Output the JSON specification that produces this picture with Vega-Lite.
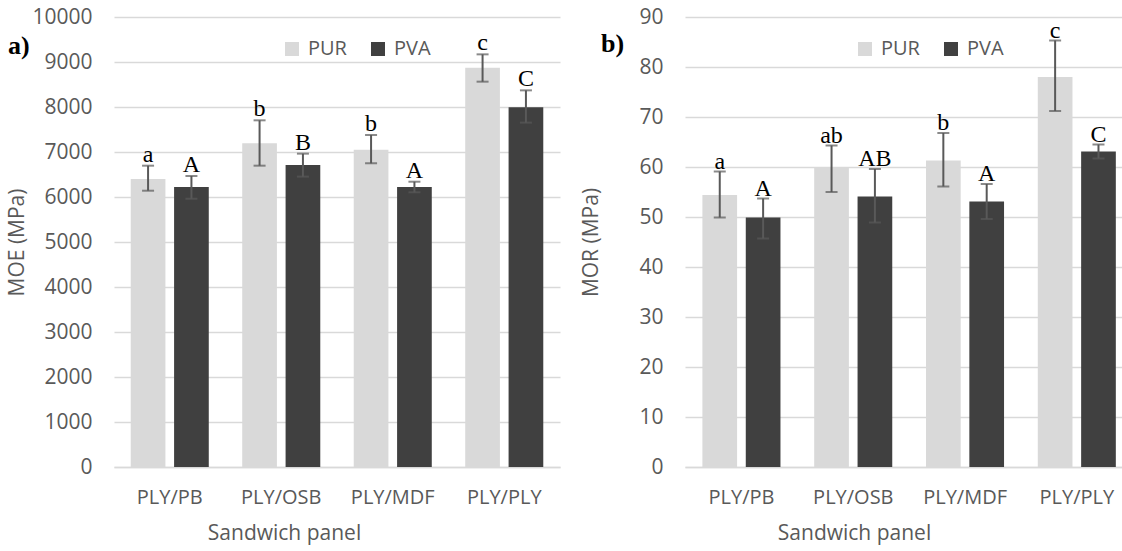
{
  "$schema": "https://vega.github.io/schema/vega-lite/v6.json",
  "background": "white",
  "padding": {"left": 6, "top": 6, "right": 0, "bottom": 5},
  "config": {
    "view": {"stroke": null},
    "font": "Open Sans",
    "axis": {
      "labelFont": "Open Sans", "titleFont": "Open Sans",
      "labelColor": "#595959", "titleColor": "#595959",
      "labelFontSize": 21, "titleFontSize": 21, "titleFontWeight": "normal",
      "gridColor": "#d9d9d9", "gridWidth": 1.5,
      "domain": false, "ticks": false
    },
    "legend": {
      "labelFont": "Open Sans", "labelFontSize": 20, "labelColor": "#595959",
      "symbolType": "square", "symbolSize": 196, "symbolStrokeWidth": 0,
      "columnPadding": 21, "labelOffset": 6
    }
  },
  "datasets": {
    "moe": [
      {"panel": "PLY/PB", "adhesive": "PUR", "mean": 6400, "lo": 6140, "hi": 6696, "letter": "a"},
      {"panel": "PLY/PB", "adhesive": "PVA", "mean": 6222, "lo": 5962, "hi": 6467, "letter": "A"},
      {"panel": "PLY/OSB", "adhesive": "PUR", "mean": 7193, "lo": 6696, "hi": 7704, "letter": "b"},
      {"panel": "PLY/OSB", "adhesive": "PVA", "mean": 6711, "lo": 6452, "hi": 6963, "letter": "B"},
      {"panel": "PLY/MDF", "adhesive": "PUR", "mean": 7052, "lo": 6748, "hi": 7378, "letter": "b"},
      {"panel": "PLY/MDF", "adhesive": "PVA", "mean": 6222, "lo": 6104, "hi": 6340, "letter": "A"},
      {"panel": "PLY/PLY", "adhesive": "PUR", "mean": 8874, "lo": 8563, "hi": 9170, "letter": "c"},
      {"panel": "PLY/PLY", "adhesive": "PVA", "mean": 7993, "lo": 7652, "hi": 8370, "letter": "C"}
    ],
    "mor": [
      {"panel": "PLY/PB", "adhesive": "PUR", "mean": 54.4, "lo": 49.9, "hi": 59.1, "letter": "a"},
      {"panel": "PLY/PB", "adhesive": "PVA", "mean": 49.9, "lo": 45.7, "hi": 53.7, "letter": "A"},
      {"panel": "PLY/OSB", "adhesive": "PUR", "mean": 59.9, "lo": 55.0, "hi": 64.3, "letter": "ab"},
      {"panel": "PLY/OSB", "adhesive": "PVA", "mean": 54.1, "lo": 48.9, "hi": 59.6, "letter": "AB"},
      {"panel": "PLY/MDF", "adhesive": "PUR", "mean": 61.3, "lo": 56.1, "hi": 66.8, "letter": "b"},
      {"panel": "PLY/MDF", "adhesive": "PVA", "mean": 53.1, "lo": 49.6, "hi": 56.6, "letter": "A"},
      {"panel": "PLY/PLY", "adhesive": "PUR", "mean": 78.0, "lo": 71.2, "hi": 85.3, "letter": "c"},
      {"panel": "PLY/PLY", "adhesive": "PVA", "mean": 63.1, "lo": 61.7, "hi": 64.5, "letter": "C"}
    ]
  },
  "spacing": 20,
  "resolve": {"scale": {"color": "independent"}, "legend": {"color": "independent"}},
  "hconcat": [
    {
      "width": 446, "height": 450,
      "title": {"text": "a)", "orient": "top", "anchor": "start", "frame": "bounds", "offset": -79, "baseline": "bottom", "font": "Liberation Serif", "fontSize": 26, "fontWeight": "bold", "color": "black", "dx": 1},
      "data": {"name": "moe"},
      "encoding": {
        "x": {"field": "panel", "type": "nominal", "sort": ["PLY/PB", "PLY/OSB", "PLY/MDF", "PLY/PLY"],
          "scale": {"paddingInner": 0.3, "paddingOuter": 0.15},
          "axis": {"title": "Sandwich panel", "labelAngle": 0, "labelFontSize": 20, "labelPadding": 20, "titlePadding": 15, "titleX": 170, "titleAlign": "center", "domain": true, "domainColor": "#d9d9d9", "domainWidth": 1.5}},
        "xOffset": {"field": "adhesive", "type": "nominal", "sort": ["PUR", "PVA"], "scale": {"paddingInner": 0.2}}
      },
      "layer": [
        {
          "mark": {"type": "bar"},
          "encoding": {
            "y": {"field": "mean", "type": "quantitative", "title": "MOE (MPa)", "scale": {"domain": [0, 10000]},
              "axis": {"values": [0, 1000, 2000, 3000, 4000, 5000, 6000, 7000, 8000, 9000, 10000], "format": "d", "labelPadding": 22, "titlePadding": 4, "grid": true}},
            "color": {"field": "adhesive", "type": "nominal", "scale": {"domain": ["PUR", "PVA"], "range": ["#d9d9d9", "#404040"]},
              "legend": {"orient": "none", "legendX": 168, "legendY": 22, "direction": "horizontal", "title": null}}
          }
        },
        {
          "mark": {"type": "rule", "color": "#595959", "strokeWidth": 2},
          "encoding": {"y": {"field": "lo", "type": "quantitative", "title": "MOE (MPa)"}, "y2": {"field": "hi"}}
        },
        {
          "mark": {"type": "tick", "color": "#595959", "size": 12, "thickness": 2},
          "encoding": {"y": {"field": "lo", "type": "quantitative", "title": "MOE (MPa)"}}
        },
        {
          "mark": {"type": "tick", "color": "#595959", "size": 12, "thickness": 2},
          "encoding": {"y": {"field": "hi", "type": "quantitative", "title": "MOE (MPa)"}}
        },
        {
          "mark": {"type": "text", "font": "Liberation Serif", "fontSize": 24, "dy": -4, "baseline": "alphabetic", "color": "black"},
          "encoding": {"y": {"field": "hi", "type": "quantitative", "title": "MOE (MPa)"}, "text": {"field": "letter"}}
        }
      ]
    },
    {
      "width": 440, "height": 450,
      "title": {"text": "b)", "orient": "top", "anchor": "start", "frame": "bounds", "offset": -77, "baseline": "bottom", "font": "Liberation Serif", "fontSize": 26, "fontWeight": "bold", "color": "black", "dx": 20},
      "data": {"name": "mor"},
      "encoding": {
        "x": {"field": "panel", "type": "nominal", "sort": ["PLY/PB", "PLY/OSB", "PLY/MDF", "PLY/PLY"],
          "scale": {"paddingInner": 0.3, "paddingOuter": 0.118, "align": 0.66},
          "axis": {"title": "Sandwich panel", "labelAngle": 0, "labelFontSize": 20, "labelPadding": 20, "titlePadding": 15, "titleX": 169, "titleAlign": "center", "domain": true, "domainColor": "#d9d9d9", "domainWidth": 1.5}},
        "xOffset": {"field": "adhesive", "type": "nominal", "sort": ["PUR", "PVA"], "scale": {"paddingInner": 0.2}}
      },
      "layer": [
        {
          "mark": {"type": "bar"},
          "encoding": {
            "y": {"field": "mean", "type": "quantitative", "title": "MOR (MPa)", "scale": {"domain": [0, 90]},
              "axis": {"values": [0, 10, 20, 30, 40, 50, 60, 70, 80, 90], "format": "d", "labelPadding": 22, "titlePadding": 37, "grid": true}},
            "color": {"field": "adhesive", "type": "nominal", "scale": {"domain": ["PUR", "PVA"], "range": ["#d9d9d9", "#404040"]},
              "legend": {"orient": "none", "legendX": 170, "legendY": 22, "direction": "horizontal", "title": null}}
          }
        },
        {
          "mark": {"type": "rule", "color": "#595959", "strokeWidth": 2},
          "encoding": {"y": {"field": "lo", "type": "quantitative", "title": "MOR (MPa)"}, "y2": {"field": "hi"}}
        },
        {
          "mark": {"type": "tick", "color": "#595959", "size": 12, "thickness": 2},
          "encoding": {"y": {"field": "lo", "type": "quantitative", "title": "MOR (MPa)"}}
        },
        {
          "mark": {"type": "tick", "color": "#595959", "size": 12, "thickness": 2},
          "encoding": {"y": {"field": "hi", "type": "quantitative", "title": "MOR (MPa)"}}
        },
        {
          "mark": {"type": "text", "font": "Liberation Serif", "fontSize": 24, "dy": -3, "baseline": "alphabetic", "color": "black"},
          "encoding": {"y": {"field": "hi", "type": "quantitative", "title": "MOR (MPa)"}, "text": {"field": "letter"}}
        }
      ]
    }
  ]
}
